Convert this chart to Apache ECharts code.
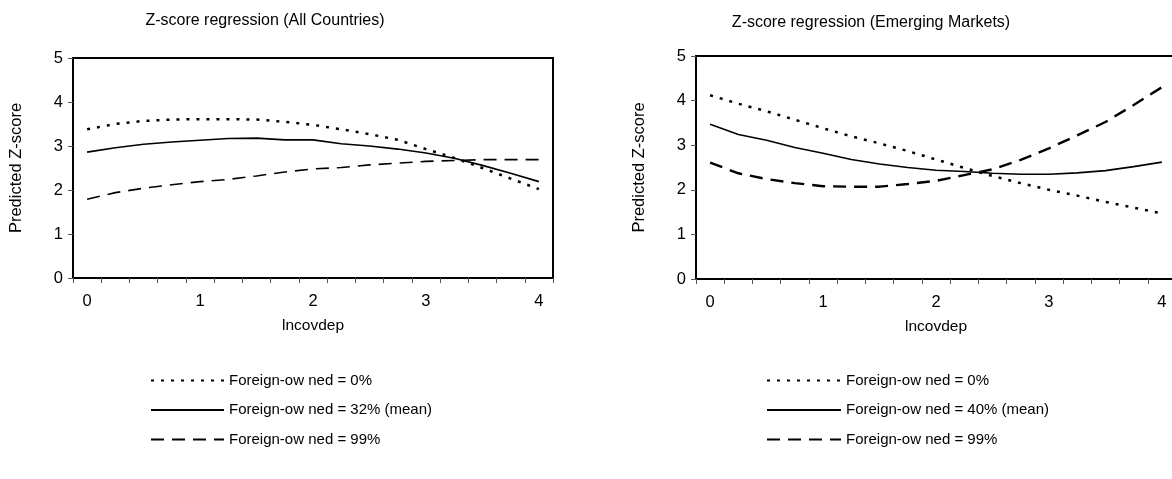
<!DOCTYPE html>
<html>
<head>
<meta charset="utf-8">
<script src="https://cdn.jsdelivr.net/npm/echarts@6/dist/echarts.min.js"></script>
<style>
html,body{margin:0;padding:0;background:#fff;}
#chart{width:1172px;height:479px;}
</style>
</head>
<body>
<div id="chart"></div>
<script>
const xCats = ['0','0.25','0.5','0.75','1','1.25','1.5','1.75','2','2.25','2.5','2.75','3','3.25','3.5','3.75','4'];
const yMin = 0, yMax = 5, yStep = 1;

const titleAll = 'Z-score regression (All Countries)';
const titleEm = 'Z-score regression (Emerging Markets)';
const xName = 'lncovdep';
const yName = 'Predicted Z-score';

const namesAll = ['Foreign-ow ned = 0%', 'Foreign-ow ned = 32% (mean)', 'Foreign-ow ned = 99%'];
const namesEm = ['Foreign-ow ned = 0% ', 'Foreign-ow ned = 40% (mean)', 'Foreign-ow ned = 99% '];

const allZero = [3.38, 3.50, 3.57, 3.60, 3.61, 3.61, 3.60, 3.55, 3.48, 3.38, 3.27, 3.14, 2.93, 2.73, 2.50, 2.26, 2.02];
const allMean = [2.86, 2.96, 3.04, 3.09, 3.13, 3.17, 3.18, 3.14, 3.14, 3.05, 3.00, 2.93, 2.84, 2.72, 2.56, 2.38, 2.19];
const allHigh = [1.79, 1.94, 2.04, 2.12, 2.19, 2.24, 2.32, 2.41, 2.48, 2.51, 2.57, 2.61, 2.65, 2.67, 2.69, 2.69, 2.69];

const emZero = [4.12, 3.93, 3.76, 3.57, 3.38, 3.20, 3.04, 2.87, 2.68, 2.49, 2.31, 2.15, 2.00, 1.87, 1.73, 1.60, 1.47];
const emMean = [3.47, 3.24, 3.11, 2.95, 2.82, 2.68, 2.58, 2.50, 2.44, 2.41, 2.37, 2.35, 2.35, 2.38, 2.43, 2.52, 2.62];
const emHigh = [2.61, 2.37, 2.24, 2.15, 2.08, 2.07, 2.07, 2.13, 2.20, 2.33, 2.46, 2.67, 2.93, 3.22, 3.52, 3.90, 4.30];

const FONT = '"Liberation Sans", Arial, sans-serif';
const chart = echarts.init(document.getElementById('chart'), null, {renderer: 'canvas'});

function xAxisCfg(gi) {
  return {
    type: 'category', gridIndex: gi, data: xCats, boundaryGap: true,
    name: xName, nameLocation: 'middle', nameGap: 40,
    nameTextStyle: {color: '#000', fontSize: 15.5, fontFamily: FONT},
    axisLine: {lineStyle: {color: '#000', width: 2}},
    axisTick: {show: true, interval: 0, length: 5, lineStyle: {color: '#555', width: 1}},
    axisLabel: {interval: 3, margin: 15, color: '#000', fontSize: 16.5, fontFamily: FONT},
    splitLine: {show: false}
  };
}
function yAxisCfg(gi) {
  return {
    type: 'value', gridIndex: gi, min: yMin, max: yMax, interval: yStep,
    name: yName, nameLocation: 'middle', nameGap: 48, nameRotate: 90,
    nameTextStyle: {color: '#000', fontSize: 16.5, fontFamily: FONT},
    axisLine: {show: true, lineStyle: {color: '#000', width: 2}},
    axisTick: {show: true, length: 5, lineStyle: {color: '#555', width: 1}},
    axisLabel: {margin: 10, color: '#000', fontSize: 16.5, fontFamily: FONT},
    splitLine: {show: false}
  };
}
function ser(name, data, gi, width, dash) {
  return {
    name: name, type: 'line', xAxisIndex: gi, yAxisIndex: gi, data: data,
    symbol: 'none', smooth: false, silent: true,
    lineStyle: {color: '#000', width: width, type: dash},
    itemStyle: {color: '#000'}
  };
}
const hiddenSym = {color: 'rgba(0,0,0,0)', borderColor: 'rgba(0,0,0,0)', borderWidth: 0, opacity: 0};

const option = {
  animation: false,
  backgroundColor: '#fff',
  grid: [
    {left: 73, top: 58, width: 480, height: 220, show: true, borderColor: '#000', borderWidth: 2,
     backgroundColor: 'transparent', containLabel: false, outerBoundsMode: 'none'},
    {left: 696, top: 56, width: 480, height: 223, show: true, borderColor: '#000', borderWidth: 2,
     backgroundColor: 'transparent', containLabel: false, outerBoundsMode: 'none'}
  ],
  xAxis: [xAxisCfg(0), xAxisCfg(1)],
  yAxis: [yAxisCfg(0), yAxisCfg(1)],
  legend: [
    {data: namesAll, orient: 'vertical', left: 150, top: 373, padding: 0, itemWidth: 73, itemHeight: 12, itemGap: 14.5,
     textStyle: {color: '#000', fontSize: 15, fontFamily: FONT}, selectedMode: false, itemStyle: hiddenSym},
    {data: namesEm, orient: 'vertical', left: 766, top: 373, padding: 0, itemWidth: 74, itemHeight: 12, itemGap: 14.5,
     textStyle: {color: '#000', fontSize: 15, fontFamily: FONT}, selectedMode: false, itemStyle: hiddenSym}
  ],
  graphic: [
    {type: 'text', x: 265, y: 21, style: {text: titleAll, fill: '#000', font: '16px ' + FONT, textAlign: 'center', textVerticalAlign: 'middle'}},
    {type: 'text', x: 871, y: 23, style: {text: titleEm, fill: '#000', font: '16px ' + FONT, textAlign: 'center', textVerticalAlign: 'middle'}}
  ],
  series: [
    ser(namesAll[0], allZero, 0, 2.5, [3, 7]),
    ser(namesAll[1], allMean, 0, 1.6, 'solid'),
    ser(namesAll[2], allHigh, 0, 1.6, [13, 8]),
    ser(namesEm[0], emZero, 1, 2.5, [3, 7]),
    ser(namesEm[1], emMean, 1, 1.6, 'solid'),
    ser(namesEm[2], emHigh, 1, 2.4, [13, 8])
  ]
};
chart.setOption(option);
</script>
</body>
</html>
